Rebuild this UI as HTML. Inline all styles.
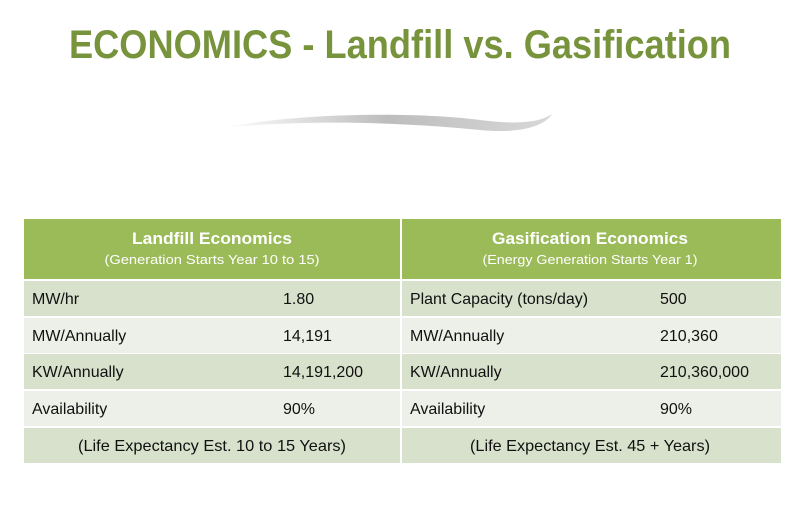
<!DOCTYPE html>
<html><head><meta charset="utf-8"><style>
html,body{margin:0;padding:0;background:#fff;width:800px;height:524px;overflow:hidden}
svg{display:block;font-family:"Liberation Sans",sans-serif}
</style></head><body>
<svg width="800" height="524" viewBox="0 0 800 524">
<defs><linearGradient id="sw" x1="0" x2="1"><stop offset="0" stop-color="#fff"/><stop offset="0.5" stop-color="#bdbdbd"/><stop offset="1" stop-color="#d8d8d8"/></linearGradient></defs>
<text x="400" y="58" text-anchor="middle" font-size="40" font-weight="bold" fill="#77933C" textLength="662" lengthAdjust="spacingAndGlyphs">ECONOMICS  -  Landfill vs. Gasification</text>
<path d="M222 128 C300 112 420 112 480 120 C520 125 540 122 552 114 C545 126 520 134 480 130 C420 124 320 118 222 128 Z" fill="url(#sw)"/>
<g>
<rect x="24" y="219" width="757" height="60" fill="#9BBB59"/>
<rect x="24" y="281" width="757" height="35" fill="#D8E1CB"/>
<rect x="24" y="318" width="757" height="35" fill="#ECF0E8"/>
<rect x="24" y="354" width="757" height="35" fill="#D8E1CB"/>
<rect x="24" y="391" width="757" height="35" fill="#ECF0E8"/>
<rect x="24" y="428" width="757" height="35" fill="#D8E1CB"/>
<rect x="400" y="219" width="2" height="244" fill="#fff"/>
<g fill="#fff" text-anchor="middle">
<text x="212" y="244" font-size="17" font-weight="bold" textLength="160" lengthAdjust="spacingAndGlyphs">Landfill Economics</text>
<text x="212" y="264" font-size="13" textLength="215" lengthAdjust="spacingAndGlyphs">(Generation Starts Year 10 to 15)</text>
<text x="590" y="244" font-size="17" font-weight="bold" textLength="196" lengthAdjust="spacingAndGlyphs">Gasification Economics</text>
<text x="590" y="264" font-size="13" textLength="215" lengthAdjust="spacingAndGlyphs">(Energy Generation Starts Year 1)</text>
</g>
<g fill="#111" font-size="16">
<text x="32" y="304">MW/hr</text>
<text x="283" y="304">1.80</text>
<text x="32" y="341">MW/Annually</text>
<text x="283" y="341">14,191</text>
<text x="32" y="377">KW/Annually</text>
<text x="283" y="377">14,191,200</text>
<text x="32" y="414">Availability</text>
<text x="283" y="414">90%</text>
<text x="212" y="451" text-anchor="middle" textLength="268" lengthAdjust="spacingAndGlyphs">(Life Expectancy Est. 10 to 15 Years)</text>
<text x="410" y="304" textLength="178" lengthAdjust="spacingAndGlyphs">Plant Capacity (tons/day)</text>
<text x="660" y="304">500</text>
<text x="410" y="341">MW/Annually</text>
<text x="660" y="341">210,360</text>
<text x="410" y="377">KW/Annually</text>
<text x="660" y="377">210,360,000</text>
<text x="410" y="414">Availability</text>
<text x="660" y="414">90%</text>
<text x="590" y="451" text-anchor="middle" textLength="240" lengthAdjust="spacingAndGlyphs">(Life Expectancy Est. 45 + Years)</text>
</g>
</g>
</svg>
</body></html>
